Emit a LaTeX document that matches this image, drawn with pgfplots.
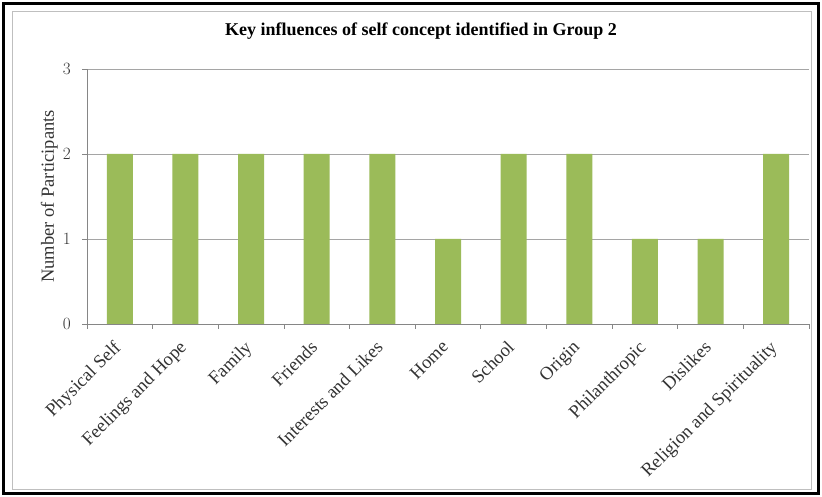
\documentclass[border=0pt]{standalone}
\usepackage{pgfplots}
\pgfplotsset{compat=1.18}
\usepackage{fontspec}
\setmainfont{Liberation Serif}
\definecolor{bargreen}{RGB}{155,187,89}
\definecolor{axisgray}{RGB}{134,134,134}
\definecolor{gridgray}{RGB}{165,165,165}
\begin{document}
\begin{tikzpicture}[x=1bp,y=1bp]
\useasboundingbox (-87,-173) rectangle (735,324);
\fill[white] (-87,-173) rectangle (735,324);
\draw[line width=3bp] (-83,-170) rectangle (731,320);
\draw[black!25, line width=0.8bp] (-75,-165) rectangle (724,313);
\begin{axis}[
  at={(0,0)}, anchor=south west,
  width=722bp, height=255bp, scale only axis,
  ybar,
  xmin=-0.5, xmax=10.5, ymin=0, ymax=3,
  axis lines*=left,
  axis line style={axisgray, line width=0.8bp},
  ymajorgrids, grid style={gridgray, line width=0.7bp},
  ytick={0,1,2,3},
  xtick={0,...,10},
  minor xtick={-0.5,0.5,...,10.5},
  xticklabels={Physical Self, Feelings and Hope, Family, Friends, Interests and Likes, Home, School, Origin, Philanthropic, Dislikes, Religion and Spirituality},
  tick align=outside,
  major tick length=5bp,
  minor tick length=5bp,
  major x tick style={draw=none},
  minor x tick style={axisgray, line width=0.8bp},
  major y tick style={axisgray, line width=0.8bp},
  xticklabel style={font=\fontsize{18.5bp}{20bp}\selectfont, rotate=45, anchor=north east, inner sep=0pt, text=black!80, xshift=-12.5bp, yshift=-2bp},
  yticklabel style={font=\fontsize{16bp}{18bp}\selectfont, anchor=east, inner sep=0pt, text=black!80, xshift=-11bp},
  ylabel={Number of Participants},
  ylabel style={at={(axis description cs:-0.052,0.5)}, anchor=center, font=\fontsize{18.5bp}{20bp}\selectfont, text=black!80},
  title={Key influences of self concept identified in Group 2},
  title style={at={(axis description cs:0.4626,1.1098)}, anchor=base, font=\bfseries\fontsize{18bp}{20bp}\selectfont, inner sep=0pt},
]
\addplot[fill=bargreen, draw=none, bar width=26bp] coordinates {(0,2) (1,2) (2,2) (3,2) (4,2) (5,1) (6,2) (7,2) (8,1) (9,1) (10,2)};
\end{axis}
\end{tikzpicture}
\end{document}
